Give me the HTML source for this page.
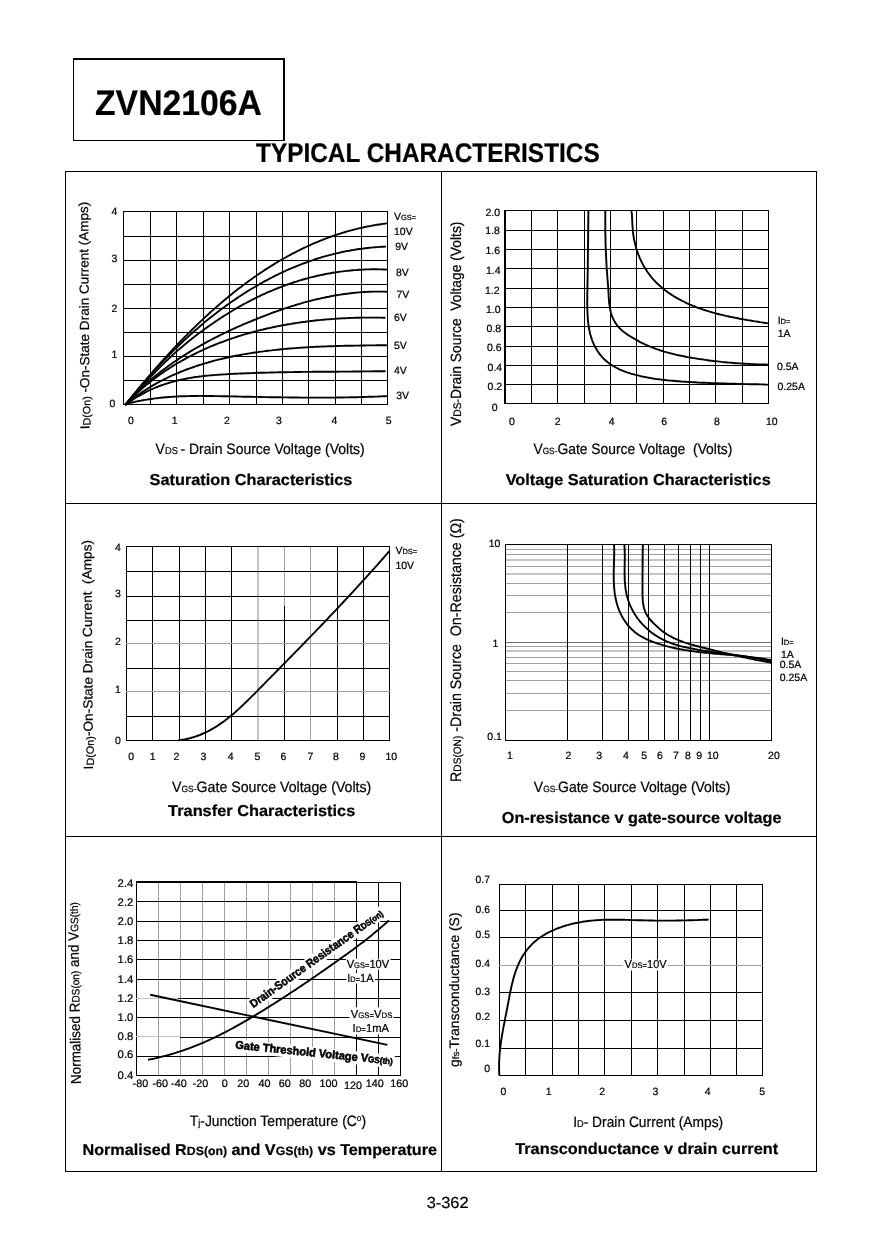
<!DOCTYPE html>
<html lang="en">
<head>
<meta charset="utf-8">
<title>ZVN2106A - Typical Characteristics</title>
<style>
html,body{margin:0;padding:0;background:#fff;}
body{width:879px;height:1240px;overflow:hidden;}
svg{display:block;}
svg text{font-family:"Liberation Sans",sans-serif;fill:#000;white-space:pre;stroke:#000;stroke-width:.22px;stroke-linejoin:round;text-rendering:geometricPrecision;}
</style>
</head>
<body>
<svg width="879" height="1240" viewBox="0 0 879 1240">
<rect x="0" y="0" width="879" height="1240" fill="#fff"/>
<line x1="65" y1="171.5" x2="817" y2="171.5" stroke="#000" stroke-width="1" shape-rendering="crispEdges"/>
<line x1="65" y1="1171.5" x2="817" y2="1171.5" stroke="#000" stroke-width="1" shape-rendering="crispEdges"/>
<line x1="65.5" y1="171" x2="65.5" y2="1172" stroke="#000" stroke-width="1" shape-rendering="crispEdges"/>
<line x1="816.5" y1="171" x2="816.5" y2="1172" stroke="#000" stroke-width="1" shape-rendering="crispEdges"/>
<line x1="441.5" y1="171" x2="441.5" y2="1172" stroke="#000" stroke-width="1" shape-rendering="crispEdges"/>
<line x1="65" y1="503.5" x2="817" y2="503.5" stroke="#000" stroke-width="1" shape-rendering="crispEdges"/>
<line x1="65" y1="836.5" x2="817" y2="836.5" stroke="#000" stroke-width="1" shape-rendering="crispEdges"/>
<line x1="73" y1="59" x2="285" y2="59" stroke="#000" stroke-width="2" shape-rendering="crispEdges"/>
<line x1="73" y1="140.5" x2="285" y2="140.5" stroke="#000" stroke-width="1" shape-rendering="crispEdges"/>
<line x1="73.5" y1="58" x2="73.5" y2="141" stroke="#000" stroke-width="1" shape-rendering="crispEdges"/>
<line x1="284" y1="58" x2="284" y2="141" stroke="#000" stroke-width="2" shape-rendering="crispEdges"/>
<text id="t0" transform="translate(95,115.4) scale(0.9509,1)" font-size="35.5" font-weight="bold">ZVN2106A</text>
<text id="t1" transform="translate(256,162.4) scale(0.9032,1)" font-size="27" font-weight="bold">TYPICAL CHARACTERISTICS</text>
<text id="t2" transform="translate(426.7,1207.8) scale(1.0215,1)" font-size="16">3-362</text>
<line x1="123.5" y1="211" x2="123.5" y2="405" stroke="#000" stroke-width="1" shape-rendering="crispEdges"/>
<line x1="150.5" y1="211" x2="150.5" y2="405" stroke="#000" stroke-width="1" shape-rendering="crispEdges"/>
<line x1="176.5" y1="211" x2="176.5" y2="405" stroke="#000" stroke-width="1" shape-rendering="crispEdges"/>
<line x1="203.5" y1="211" x2="203.5" y2="405" stroke="#000" stroke-width="1" shape-rendering="crispEdges"/>
<line x1="229.5" y1="211" x2="229.5" y2="405" stroke="#000" stroke-width="1" shape-rendering="crispEdges"/>
<line x1="256.5" y1="211" x2="256.5" y2="405" stroke="#000" stroke-width="1" shape-rendering="crispEdges"/>
<line x1="282.5" y1="211" x2="282.5" y2="405" stroke="#000" stroke-width="1" shape-rendering="crispEdges"/>
<line x1="308.5" y1="211" x2="308.5" y2="405" stroke="#000" stroke-width="1" shape-rendering="crispEdges"/>
<line x1="335.5" y1="211" x2="335.5" y2="405" stroke="#000" stroke-width="1" shape-rendering="crispEdges"/>
<line x1="361.5" y1="211" x2="361.5" y2="405" stroke="#000" stroke-width="1" shape-rendering="crispEdges"/>
<line x1="387.5" y1="211" x2="387.5" y2="405" stroke="#000" stroke-width="1" shape-rendering="crispEdges"/>
<line x1="123" y1="211.5" x2="388" y2="211.5" stroke="#000" stroke-width="1" shape-rendering="crispEdges"/>
<line x1="123" y1="236.5" x2="388" y2="236.5" stroke="#000" stroke-width="1" shape-rendering="crispEdges"/>
<line x1="123" y1="260.5" x2="388" y2="260.5" stroke="#000" stroke-width="1" shape-rendering="crispEdges"/>
<line x1="123" y1="284.5" x2="388" y2="284.5" stroke="#000" stroke-width="1" shape-rendering="crispEdges"/>
<line x1="123" y1="308.5" x2="388" y2="308.5" stroke="#000" stroke-width="1" shape-rendering="crispEdges"/>
<line x1="123" y1="332.5" x2="388" y2="332.5" stroke="#000" stroke-width="1" shape-rendering="crispEdges"/>
<line x1="123" y1="356.5" x2="388" y2="356.5" stroke="#000" stroke-width="1" shape-rendering="crispEdges"/>
<line x1="123" y1="380.5" x2="388" y2="380.5" stroke="#000" stroke-width="1" shape-rendering="crispEdges"/>
<line x1="123" y1="404.5" x2="388" y2="404.5" stroke="#000" stroke-width="1" shape-rendering="crispEdges"/>
<path d="M125.5,404.6 L126.7,403.1 L127.9,401.5 L129.1,400.0 L130.4,398.5 L131.6,396.9 L132.9,395.4 L134.1,393.9 L135.4,392.3 L136.7,390.8 L137.9,389.2 L139.2,387.7 L140.5,386.2 L141.7,384.7 L143.0,383.1 L144.3,381.6 L145.6,380.1 L146.9,378.5 L148.2,377.0 L149.5,375.5 L150.8,374.0 L152.1,372.5 L153.4,370.9 L154.8,369.4 L156.1,367.9 L157.4,366.4 L158.8,364.9 L160.1,363.4 L161.4,361.9 L162.8,360.4 L164.1,358.9 L165.5,357.4 L166.9,355.9 L168.2,354.4 L169.6,352.9 L171.0,351.4 L172.4,349.9 L173.7,348.4 L175.1,347.0 L176.5,345.5 L177.9,344.0 L179.3,342.6 L180.7,341.1 L182.1,339.6 L183.6,338.2 L185.0,336.7 L186.4,335.3 L187.8,333.8 L189.3,332.4 L190.7,331.0 L192.2,329.5 L193.6,328.1 L195.1,326.7 L196.5,325.3 L198.0,323.9 L199.5,322.5 L200.9,321.1 L202.4,319.7 L203.9,318.3 L205.4,316.9 L206.9,315.5 L208.4,314.2 L209.9,312.8 L211.4,311.4 L212.9,310.1 L214.4,308.7 L215.9,307.4 L217.5,306.1 L219.0,304.7 L220.5,303.4 L222.1,302.1 L223.6,300.8 L225.2,299.5 L226.7,298.2 L228.3,296.9 L229.9,295.6 L231.4,294.4 L233.0,293.1 L234.6,291.8 L236.2,290.6 L237.8,289.3 L239.4,288.1 L241.0,286.9 L242.6,285.6 L244.2,284.4 L245.8,283.2 L247.5,282.0 L249.1,280.8 L250.7,279.7 L252.4,278.5 L254.0,277.3 L255.7,276.2 L257.3,275.0 L259.0,273.9 L260.7,272.8 L262.3,271.7 L264.0,270.5 L265.7,269.4 L267.4,268.4 L269.1,267.3 L270.8,266.2 L272.5,265.1 L274.2,264.1 L275.9,263.0 L277.6,262.0 L279.4,261.0 L281.1,260.0 L282.8,259.0 L284.6,258.0 L286.3,257.0 L288.1,256.0 L289.8,255.1 L291.6,254.1 L293.4,253.2 L295.2,252.3 L296.9,251.4 L298.7,250.5 L300.5,249.6 L302.3,248.7 L304.1,247.8 L305.9,247.0 L307.8,246.1 L309.6,245.3 L311.4,244.5 L313.2,243.7 L315.1,242.9 L316.9,242.1 L318.8,241.3 L320.6,240.6 L322.5,239.9 L324.4,239.1 L326.2,238.4 L328.1,237.7 L330.0,237.0 L331.9,236.3 L333.8,235.7 L335.7,235.0 L337.6,234.4 L339.5,233.8 L341.4,233.2 L343.3,232.6 L345.3,232.0 L347.2,231.4 L349.2,230.9 L351.1,230.4 L353.1,229.8 L355.0,229.3 L357.0,228.9 L358.9,228.4 L360.9,227.9 L362.9,227.5 L364.9,227.0 L366.9,226.6 L368.9,226.2 L370.9,225.9 L372.9,225.5 L374.9,225.1 L376.9,224.8 L379.0,224.5 L381.0,224.2 L383.1,223.9 L385.1,223.6 L387.2,223.4" fill="none" stroke="#000" stroke-width="1.9" stroke-linecap="butt" stroke-linejoin="round"/>
<path d="M125.6,404.9 L126.8,403.3 L128.0,401.7 L129.3,400.2 L130.5,398.6 L131.8,397.1 L133.0,395.5 L134.3,394.0 L135.5,392.5 L136.8,390.9 L138.1,389.4 L139.4,387.9 L140.6,386.3 L141.9,384.8 L143.2,383.3 L144.5,381.8 L145.9,380.2 L147.2,378.7 L148.5,377.2 L149.8,375.7 L151.2,374.2 L152.5,372.7 L153.9,371.2 L155.2,369.7 L156.6,368.2 L158.0,366.7 L159.3,365.3 L160.7,363.8 L162.1,362.3 L163.5,360.9 L164.9,359.4 L166.3,357.9 L167.7,356.5 L169.1,355.1 L170.5,353.6 L172.0,352.2 L173.4,350.7 L174.8,349.3 L176.3,347.9 L177.7,346.5 L179.2,345.1 L180.7,343.7 L182.1,342.3 L183.6,340.9 L185.1,339.5 L186.6,338.1 L188.1,336.8 L189.6,335.4 L191.1,334.0 L192.6,332.7 L194.1,331.4 L195.6,330.0 L197.2,328.7 L198.7,327.4 L200.3,326.0 L201.8,324.7 L203.4,323.4 L204.9,322.1 L206.5,320.8 L208.0,319.6 L209.6,318.3 L211.2,317.0 L212.8,315.8 L214.4,314.5 L216.0,313.3 L217.6,312.0 L219.2,310.8 L220.8,309.6 L222.4,308.4 L224.1,307.2 L225.7,306.0 L227.3,304.8 L229.0,303.7 L230.6,302.5 L232.3,301.3 L233.9,300.2 L235.6,299.1 L237.3,297.9 L239.0,296.8 L240.6,295.7 L242.3,294.6 L244.0,293.5 L245.7,292.4 L247.4,291.4 L249.1,290.3 L250.8,289.3 L252.6,288.2 L254.3,287.2 L256.0,286.2 L257.8,285.2 L259.5,284.2 L261.3,283.2 L263.0,282.2 L264.8,281.2 L266.5,280.3 L268.3,279.3 L270.1,278.4 L271.9,277.5 L273.6,276.6 L275.4,275.7 L277.2,274.8 L279.0,273.9 L280.8,273.1 L282.6,272.2 L284.5,271.4 L286.3,270.5 L288.1,269.7 L289.9,268.9 L291.8,268.1 L293.6,267.4 L295.5,266.6 L297.3,265.8 L299.2,265.1 L301.1,264.4 L302.9,263.7 L304.8,263.0 L306.7,262.3 L308.6,261.6 L310.5,260.9 L312.3,260.3 L314.2,259.6 L316.1,259.0 L318.1,258.4 L320.0,257.8 L321.9,257.2 L323.8,256.7 L325.7,256.1 L327.7,255.6 L329.6,255.1 L331.6,254.6 L333.5,254.1 L335.5,253.6 L337.4,253.1 L339.4,252.7 L341.4,252.2 L343.3,251.8 L345.3,251.4 L347.3,251.0 L349.3,250.7 L351.3,250.3 L353.3,250.0 L355.3,249.6 L357.3,249.3 L359.3,249.0 L361.3,248.7 L363.4,248.5 L365.4,248.2 L367.4,248.0 L369.4,247.8 L371.5,247.6 L373.5,247.4 L375.6,247.2 L377.6,247.1 L379.7,246.9 L381.8,246.8 L383.8,246.7 L385.9,246.6" fill="none" stroke="#000" stroke-width="1.9" stroke-linecap="butt" stroke-linejoin="round"/>
<path d="M125.4,404.9 L126.7,403.3 L128.0,401.8 L129.4,400.3 L130.7,398.8 L132.0,397.2 L133.4,395.7 L134.7,394.2 L136.1,392.7 L137.4,391.2 L138.8,389.7 L140.2,388.2 L141.5,386.7 L142.9,385.2 L144.2,383.7 L145.6,382.2 L147.0,380.7 L148.4,379.2 L149.8,377.8 L151.2,376.3 L152.6,374.8 L154.0,373.4 L155.4,371.9 L156.8,370.5 L158.2,369.0 L159.6,367.6 L161.0,366.2 L162.5,364.7 L163.9,363.3 L165.4,361.9 L166.8,360.5 L168.3,359.1 L169.8,357.7 L171.2,356.4 L172.7,355.0 L174.2,353.6 L175.7,352.3 L177.2,350.9 L178.7,349.6 L180.3,348.3 L181.8,347.0 L183.4,345.7 L184.9,344.4 L186.5,343.1 L188.0,341.8 L189.6,340.5 L191.2,339.3 L192.8,338.0 L194.4,336.8 L196.0,335.6 L197.6,334.3 L199.2,333.1 L200.8,331.9 L202.5,330.7 L204.1,329.5 L205.7,328.3 L207.4,327.1 L209.0,326.0 L210.7,324.8 L212.4,323.7 L214.0,322.5 L215.7,321.4 L217.4,320.2 L219.1,319.1 L220.8,318.0 L222.5,316.9 L224.2,315.8 L225.9,314.7 L227.6,313.7 L229.3,312.6 L231.1,311.5 L232.8,310.5 L234.5,309.5 L236.3,308.4 L238.1,307.4 L239.8,306.4 L241.6,305.4 L243.3,304.4 L245.1,303.5 L246.9,302.5 L248.7,301.6 L250.5,300.6 L252.3,299.7 L254.1,298.8 L255.9,297.9 L257.7,297.0 L259.6,296.1 L261.4,295.2 L263.2,294.4 L265.1,293.6 L266.9,292.7 L268.7,291.9 L270.6,291.1 L272.5,290.3 L274.3,289.5 L276.2,288.8 L278.1,288.0 L280.0,287.3 L281.9,286.6 L283.8,285.9 L285.7,285.2 L287.6,284.5 L289.5,283.8 L291.4,283.2 L293.3,282.5 L295.2,281.9 L297.2,281.3 L299.1,280.7 L301.0,280.1 L303.0,279.5 L304.9,279.0 L306.9,278.5 L308.8,277.9 L310.8,277.4 L312.8,276.9 L314.7,276.5 L316.7,276.0 L318.7,275.5 L320.6,275.1 L322.6,274.7 L324.6,274.3 L326.6,273.9 L328.6,273.5 L330.6,273.2 L332.6,272.8 L334.6,272.5 L336.6,272.2 L338.6,271.9 L340.6,271.6 L342.6,271.4 L344.6,271.1 L346.6,270.9 L348.6,270.7 L350.6,270.5 L352.6,270.3 L354.7,270.1 L356.7,270.0 L358.7,269.8 L360.7,269.7 L362.7,269.6 L364.7,269.5 L366.8,269.4 L368.8,269.4 L370.8,269.3 L372.8,269.3 L374.9,269.3 L376.9,269.3 L378.9,269.4 L380.9,269.4 L383.0,269.5 L385.0,269.5 L387.0,269.6" fill="none" stroke="#000" stroke-width="1.9" stroke-linecap="butt" stroke-linejoin="round"/>
<path d="M125.2,404.6 L126.5,403.1 L127.9,401.6 L129.3,400.1 L130.7,398.7 L132.1,397.2 L133.5,395.8 L134.9,394.3 L136.4,392.9 L137.8,391.5 L139.3,390.1 L140.7,388.7 L142.2,387.3 L143.7,386.0 L145.2,384.6 L146.7,383.3 L148.2,382.0 L149.7,380.7 L151.3,379.4 L152.8,378.1 L154.4,376.8 L155.9,375.5 L157.5,374.3 L159.1,373.0 L160.6,371.8 L162.2,370.6 L163.8,369.4 L165.5,368.2 L167.1,367.0 L168.7,365.8 L170.3,364.6 L172.0,363.5 L173.6,362.3 L175.3,361.2 L176.9,360.1 L178.6,358.9 L180.3,357.8 L182.0,356.7 L183.7,355.6 L185.4,354.6 L187.1,353.5 L188.8,352.4 L190.5,351.4 L192.2,350.4 L194.0,349.3 L195.7,348.3 L197.4,347.3 L199.2,346.3 L200.9,345.3 L202.7,344.3 L204.5,343.3 L206.2,342.4 L208.0,341.4 L209.8,340.5 L211.6,339.5 L213.4,338.6 L215.2,337.7 L217.0,336.8 L218.8,335.8 L220.6,334.9 L222.4,334.1 L224.2,333.2 L226.1,332.3 L227.9,331.4 L229.7,330.6 L231.6,329.7 L233.4,328.9 L235.2,328.0 L237.1,327.2 L238.9,326.4 L240.8,325.6 L242.7,324.7 L244.5,323.9 L246.4,323.2 L248.2,322.4 L250.1,321.6 L252.0,320.8 L253.9,320.0 L255.7,319.3 L257.6,318.5 L259.5,317.8 L261.4,317.0 L263.3,316.3 L265.2,315.6 L267.1,314.8 L268.9,314.1 L270.8,313.4 L272.7,312.7 L274.6,312.0 L276.5,311.3 L278.5,310.7 L280.4,310.0 L282.3,309.3 L284.2,308.7 L286.1,308.1 L288.0,307.4 L289.9,306.8 L291.9,306.2 L293.8,305.6 L295.7,305.0 L297.6,304.4 L299.6,303.9 L301.5,303.3 L303.4,302.7 L305.4,302.2 L307.3,301.7 L309.3,301.2 L311.2,300.7 L313.2,300.2 L315.1,299.7 L317.1,299.2 L319.0,298.8 L321.0,298.3 L322.9,297.9 L324.9,297.5 L326.9,297.0 L328.8,296.7 L330.8,296.3 L332.8,295.9 L334.8,295.5 L336.7,295.2 L338.7,294.9 L340.7,294.6 L342.7,294.3 L344.7,294.0 L346.7,293.7 L348.7,293.5 L350.6,293.2 L352.6,293.0 L354.6,292.8 L356.7,292.6 L358.7,292.4 L360.7,292.3 L362.7,292.1 L364.7,292.0 L366.7,291.9 L368.7,291.8 L370.7,291.7 L372.8,291.6 L374.8,291.6 L376.8,291.6 L378.9,291.6 L380.9,291.6 L382.9,291.6 L385.0,291.6 L387.0,291.7" fill="none" stroke="#000" stroke-width="1.9" stroke-linecap="butt" stroke-linejoin="round"/>
<path d="M125.1,404.8 L126.5,403.3 L127.9,401.8 L129.4,400.3 L130.8,398.9 L132.3,397.4 L133.8,396.0 L135.3,394.6 L136.8,393.2 L138.3,391.9 L139.8,390.5 L141.3,389.2 L142.9,387.8 L144.4,386.5 L146.0,385.2 L147.6,384.0 L149.1,382.7 L150.7,381.4 L152.3,380.2 L153.9,379.0 L155.5,377.8 L157.2,376.6 L158.8,375.4 L160.4,374.2 L162.1,373.1 L163.8,371.9 L165.4,370.8 L167.1,369.7 L168.8,368.6 L170.5,367.5 L172.2,366.4 L173.9,365.4 L175.6,364.3 L177.3,363.3 L179.0,362.3 L180.8,361.3 L182.5,360.3 L184.3,359.3 L186.0,358.4 L187.8,357.4 L189.6,356.5 L191.4,355.6 L193.1,354.7 L194.9,353.8 L196.7,352.9 L198.6,352.0 L200.4,351.1 L202.2,350.3 L204.0,349.5 L205.8,348.6 L207.7,347.8 L209.5,347.0 L211.4,346.2 L213.2,345.5 L215.1,344.7 L217.0,344.0 L218.8,343.2 L220.7,342.5 L222.6,341.8 L224.5,341.1 L226.4,340.4 L228.3,339.7 L230.2,339.1 L232.1,338.4 L234.0,337.8 L235.9,337.1 L237.8,336.5 L239.8,335.9 L241.7,335.3 L243.6,334.7 L245.6,334.2 L247.5,333.6 L249.5,333.0 L251.4,332.5 L253.4,332.0 L255.3,331.4 L257.3,330.9 L259.2,330.4 L261.2,329.9 L263.2,329.5 L265.1,329.0 L267.1,328.5 L269.1,328.1 L271.1,327.7 L273.1,327.2 L275.1,326.8 L277.0,326.4 L279.0,326.0 L281.0,325.6 L283.0,325.3 L285.0,324.9 L287.0,324.5 L289.0,324.2 L291.0,323.9 L293.0,323.5 L295.0,323.2 L297.1,322.9 L299.1,322.6 L301.1,322.3 L303.1,322.0 L305.1,321.8 L307.1,321.5 L309.1,321.3 L311.1,321.0 L313.2,320.8 L315.2,320.5 L317.2,320.3 L319.2,320.1 L321.2,319.9 L323.3,319.7 L325.3,319.5 L327.3,319.4 L329.3,319.2 L331.3,319.1 L333.3,318.9 L335.4,318.8 L337.4,318.6 L339.4,318.5 L341.4,318.4 L343.4,318.3 L345.4,318.2 L347.5,318.1 L349.5,318.0 L351.5,317.9 L353.5,317.9 L355.5,317.8 L357.5,317.7 L359.5,317.7 L361.5,317.6 L363.5,317.6 L365.5,317.6 L367.5,317.6 L369.5,317.6 L371.5,317.6 L373.5,317.6 L375.5,317.6 L377.5,317.6 L379.5,317.6 L381.4,317.6 L383.4,317.7 L385.4,317.7" fill="none" stroke="#000" stroke-width="1.9" stroke-linecap="butt" stroke-linejoin="round"/>
<path d="M125.1,404.8 L126.7,403.5 L128.4,402.2 L130.0,400.9 L131.6,399.6 L133.3,398.4 L135.0,397.1 L136.6,395.9 L138.3,394.7 L140.0,393.6 L141.7,392.4 L143.4,391.3 L145.1,390.2 L146.8,389.1 L148.6,388.0 L150.3,387.0 L152.1,385.9 L153.8,384.9 L155.6,383.9 L157.3,382.9 L159.1,382.0 L160.9,381.0 L162.7,380.1 L164.5,379.2 L166.3,378.3 L168.1,377.4 L169.9,376.5 L171.8,375.7 L173.6,374.9 L175.5,374.1 L177.3,373.3 L179.2,372.5 L181.0,371.7 L182.9,371.0 L184.8,370.2 L186.6,369.5 L188.5,368.8 L190.4,368.1 L192.3,367.5 L194.2,366.8 L196.1,366.1 L198.0,365.5 L199.9,364.9 L201.9,364.3 L203.8,363.7 L205.7,363.1 L207.7,362.6 L209.6,362.0 L211.5,361.5 L213.5,360.9 L215.4,360.4 L217.4,359.9 L219.4,359.4 L221.3,359.0 L223.3,358.5 L225.3,358.0 L227.2,357.6 L229.2,357.2 L231.2,356.7 L233.2,356.3 L235.2,355.9 L237.2,355.5 L239.2,355.2 L241.2,354.8 L243.2,354.4 L245.2,354.1 L247.2,353.8 L249.2,353.4 L251.2,353.1 L253.2,352.8 L255.2,352.5 L257.2,352.2 L259.3,351.9 L261.3,351.6 L263.3,351.4 L265.3,351.1 L267.3,350.8 L269.4,350.6 L271.4,350.4 L273.4,350.1 L275.4,349.9 L277.5,349.7 L279.5,349.5 L281.5,349.3 L283.6,349.1 L285.6,348.9 L287.6,348.7 L289.7,348.5 L291.7,348.4 L293.7,348.2 L295.8,348.1 L297.8,347.9 L299.8,347.8 L301.9,347.6 L303.9,347.5 L306.0,347.4 L308.0,347.2 L310.0,347.1 L312.1,347.0 L314.1,346.9 L316.1,346.8 L318.2,346.7 L320.2,346.6 L322.3,346.5 L324.3,346.5 L326.3,346.4 L328.4,346.3 L330.4,346.2 L332.4,346.2 L334.5,346.1 L336.5,346.0 L338.5,346.0 L340.6,345.9 L342.6,345.9 L344.6,345.8 L346.6,345.8 L348.7,345.7 L350.7,345.7 L352.7,345.7 L354.7,345.6 L356.7,345.6 L358.8,345.6 L360.8,345.5 L362.8,345.5 L364.8,345.5 L366.8,345.4 L368.8,345.4 L370.8,345.4 L372.8,345.4 L374.8,345.4 L376.8,345.3 L378.8,345.3 L380.8,345.3 L382.8,345.3 L384.8,345.3 L386.8,345.3" fill="none" stroke="#000" stroke-width="1.9" stroke-linecap="butt" stroke-linejoin="round"/>
<path d="M125.3,405.0 L127.0,403.7 L128.7,402.5 L130.4,401.3 L132.1,400.1 L133.8,399.0 L135.5,397.9 L137.3,396.8 L139.0,395.8 L140.8,394.8 L142.6,393.8 L144.4,392.8 L146.2,391.9 L148.0,391.0 L149.8,390.1 L151.7,389.3 L153.5,388.5 L155.4,387.7 L157.2,387.0 L159.1,386.2 L161.0,385.5 L162.9,384.8 L164.8,384.2 L166.7,383.6 L168.6,383.0 L170.5,382.4 L172.4,381.9 L174.4,381.3 L176.3,380.8 L178.2,380.3 L180.2,379.9 L182.1,379.5 L184.1,379.1 L186.1,378.7 L188.0,378.3 L190.0,378.0 L192.0,377.6 L194.0,377.3 L196.0,377.0 L198.0,376.8 L200.0,376.5 L201.9,376.3 L204.0,376.0 L206.0,375.8 L208.0,375.6 L210.0,375.4 L212.0,375.2 L214.0,375.1 L216.0,374.9 L218.0,374.8 L220.0,374.6 L222.1,374.5 L224.1,374.4 L226.1,374.3 L228.1,374.1 L230.1,374.0 L232.2,373.9 L234.2,373.8 L236.2,373.7 L238.2,373.6 L240.2,373.5 L242.3,373.5 L244.3,373.4 L246.3,373.3 L248.3,373.2 L250.3,373.1 L252.4,373.1 L254.4,373.0 L256.4,372.9 L258.4,372.8 L260.4,372.8 L262.5,372.7 L264.5,372.7 L266.5,372.6 L268.5,372.6 L270.5,372.5 L272.6,372.5 L274.6,372.4 L276.6,372.4 L278.6,372.3 L280.6,372.3 L282.6,372.2 L284.7,372.2 L286.7,372.2 L288.7,372.1 L290.7,372.1 L292.7,372.1 L294.8,372.0 L296.8,372.0 L298.8,372.0 L300.8,372.0 L302.8,371.9 L304.9,371.9 L306.9,371.9 L308.9,371.9 L310.9,371.9 L312.9,371.8 L315.0,371.8 L317.0,371.8 L319.0,371.8 L321.0,371.8 L323.0,371.8 L325.0,371.7 L327.1,371.7 L329.1,371.7 L331.1,371.7 L333.1,371.7 L335.1,371.7 L337.2,371.7 L339.2,371.6 L341.2,371.6 L343.2,371.6 L345.2,371.6 L347.2,371.6 L349.3,371.6 L351.3,371.6 L353.3,371.5 L355.3,371.5 L357.3,371.5 L359.4,371.5 L361.4,371.5 L363.4,371.4 L365.4,371.4 L367.4,371.4 L369.4,371.4 L371.5,371.4 L373.5,371.3 L375.5,371.3 L377.5,371.3 L379.5,371.2 L381.6,371.2 L383.6,371.2 L385.6,371.1" fill="none" stroke="#000" stroke-width="1.9" stroke-linecap="butt" stroke-linejoin="round"/>
<path d="M125.1,404.3 L127.1,403.7 L129.1,403.2 L131.1,402.7 L133.0,402.3 L135.0,401.8 L137.0,401.4 L139.0,401.0 L141.0,400.6 L142.9,400.2 L144.9,399.9 L146.9,399.6 L148.9,399.3 L150.9,399.0 L152.9,398.7 L154.9,398.4 L156.9,398.2 L158.9,397.9 L160.9,397.7 L162.9,397.5 L164.9,397.3 L166.9,397.2 L168.9,397.0 L170.9,396.9 L172.9,396.7 L174.9,396.6 L176.9,396.5 L178.9,396.4 L181.0,396.3 L183.0,396.2 L185.0,396.2 L187.0,396.1 L189.0,396.1 L191.0,396.0 L193.0,396.0 L195.1,396.0 L197.1,396.0 L199.1,395.9 L201.1,395.9 L203.1,396.0 L205.2,396.0 L207.2,396.0 L209.2,396.0 L211.2,396.0 L213.2,396.0 L215.3,396.1 L217.3,396.1 L219.3,396.1 L221.3,396.2 L223.3,396.2 L225.4,396.3 L227.4,396.3 L229.4,396.4 L231.4,396.4 L233.5,396.4 L235.5,396.5 L237.5,396.5 L239.5,396.6 L241.5,396.6 L243.6,396.7 L245.6,396.7 L247.6,396.7 L249.6,396.8 L251.7,396.8 L253.7,396.9 L255.7,396.9 L257.7,396.9 L259.7,397.0 L261.8,397.0 L263.8,397.1 L265.8,397.1 L267.8,397.1 L269.8,397.2 L271.9,397.2 L273.9,397.2 L275.9,397.3 L277.9,397.3 L279.9,397.3 L282.0,397.4 L284.0,397.4 L286.0,397.4 L288.0,397.4 L290.1,397.5 L292.1,397.5 L294.1,397.5 L296.1,397.5 L298.1,397.5 L300.2,397.6 L302.2,397.6 L304.2,397.6 L306.2,397.6 L308.2,397.6 L310.3,397.6 L312.3,397.6 L314.3,397.6 L316.3,397.6 L318.3,397.6 L320.4,397.6 L322.4,397.6 L324.4,397.6 L326.4,397.6 L328.4,397.6 L330.5,397.6 L332.5,397.6 L334.5,397.6 L336.5,397.5 L338.5,397.5 L340.5,397.5 L342.6,397.5 L344.6,397.4 L346.6,397.4 L348.6,397.4 L350.6,397.3 L352.7,397.3 L354.7,397.2 L356.7,397.2 L358.7,397.1 L360.7,397.1 L362.8,397.0 L364.8,397.0 L366.8,396.9 L368.8,396.8 L370.8,396.8 L372.9,396.7 L374.9,396.6 L376.9,396.6 L378.9,396.5 L380.9,396.4 L382.9,396.3 L385.0,396.2 L387.0,396.1" fill="none" stroke="#000" stroke-width="1.9" stroke-linecap="butt" stroke-linejoin="round"/>
<text id="t3" transform="translate(114.4,214.6)" font-size="10.5" text-anchor="middle">4</text>
<text id="t4" transform="translate(114.4,262)" font-size="10.5" text-anchor="middle">3</text>
<text id="t5" transform="translate(114.4,312)" font-size="10.5" text-anchor="middle">2</text>
<text id="t6" transform="translate(114.4,358)" font-size="10.5" text-anchor="middle">1</text>
<text id="t7" transform="translate(112.4,406.7)" font-size="10.5" text-anchor="middle">0</text>
<text id="t8" transform="translate(131,424.4)" font-size="10.5" text-anchor="middle">0</text>
<text id="t9" transform="translate(174.6,424.4)" font-size="10.5" text-anchor="middle">1</text>
<text id="t10" transform="translate(226.8,424.4)" font-size="10.5" text-anchor="middle">2</text>
<text id="t11" transform="translate(278.9,424.4)" font-size="10.5" text-anchor="middle">3</text>
<text id="t12" transform="translate(334.4,424.4)" font-size="10.5" text-anchor="middle">4</text>
<text id="t13" transform="translate(388.6,424.4)" font-size="10.5" text-anchor="middle">5</text>
<text id="t14" transform="translate(394,219.8)" font-size="10.5">V<tspan font-size="7.5">GS=</tspan></text>
<text id="t15" transform="translate(394,234.8)" font-size="10.5">10V</text>
<text id="t16" transform="translate(395.2,250.2)" font-size="10.5">9V</text>
<text id="t17" transform="translate(396,275.5)" font-size="10.5">8V</text>
<text id="t18" transform="translate(396.5,297.6)" font-size="10.5">7V</text>
<text id="t19" transform="translate(394,320.6)" font-size="10.5">6V</text>
<text id="t20" transform="translate(394,348.7)" font-size="10.5">5V</text>
<text id="t21" transform="translate(394,373.8)" font-size="10.5">4V</text>
<text id="t22" transform="translate(396.2,399.2)" font-size="10.5">3V</text>
<text id="t23" transform="translate(155.6,454) scale(0.9323,1)" font-size="15">V<tspan font-size="10">DS </tspan>- Drain Source Voltage (Volts)</text>
<text id="t24" transform="translate(149.6,484.6) scale(1.0312,1)" font-size="15.8" font-weight="bold">Saturation Characteristics</text>
<text id="t25" transform="translate(89.6,429.3) rotate(-90.4) scale(1.0249,1)" font-size="13.2">I<tspan font-size="10.5" dy="0.8">D(On)</tspan><tspan dy="-0.8"> -On-State Drain Current (Amps)</tspan></text>
<line x1="505.5" y1="210" x2="505.5" y2="404" stroke="#000" stroke-width="1" shape-rendering="crispEdges"/>
<line x1="531.5" y1="210" x2="531.5" y2="404" stroke="#000" stroke-width="1" shape-rendering="crispEdges"/>
<line x1="557.5" y1="210" x2="557.5" y2="404" stroke="#000" stroke-width="1" shape-rendering="crispEdges"/>
<line x1="584.5" y1="210" x2="584.5" y2="404" stroke="#000" stroke-width="1" shape-rendering="crispEdges"/>
<line x1="610.5" y1="210" x2="610.5" y2="404" stroke="#000" stroke-width="1" shape-rendering="crispEdges"/>
<line x1="636.5" y1="210" x2="636.5" y2="404" stroke="#000" stroke-width="1" shape-rendering="crispEdges"/>
<line x1="663.5" y1="210" x2="663.5" y2="404" stroke="#000" stroke-width="1" shape-rendering="crispEdges"/>
<line x1="689.5" y1="210" x2="689.5" y2="404" stroke="#000" stroke-width="1" shape-rendering="crispEdges"/>
<line x1="715.5" y1="210" x2="715.5" y2="404" stroke="#000" stroke-width="1" shape-rendering="crispEdges"/>
<line x1="742.5" y1="210" x2="742.5" y2="404" stroke="#000" stroke-width="1" shape-rendering="crispEdges"/>
<line x1="768.5" y1="210" x2="768.5" y2="404" stroke="#000" stroke-width="1" shape-rendering="crispEdges"/>
<line x1="505" y1="210.5" x2="769" y2="210.5" stroke="#000" stroke-width="1" shape-rendering="crispEdges"/>
<line x1="505" y1="230.5" x2="769" y2="230.5" stroke="#000" stroke-width="1" shape-rendering="crispEdges"/>
<line x1="505" y1="249.5" x2="769" y2="249.5" stroke="#000" stroke-width="1" shape-rendering="crispEdges"/>
<line x1="505" y1="268.5" x2="769" y2="268.5" stroke="#000" stroke-width="1" shape-rendering="crispEdges"/>
<line x1="505" y1="288.5" x2="769" y2="288.5" stroke="#000" stroke-width="1" shape-rendering="crispEdges"/>
<line x1="505" y1="307.5" x2="769" y2="307.5" stroke="#000" stroke-width="1" shape-rendering="crispEdges"/>
<line x1="505" y1="326.5" x2="769" y2="326.5" stroke="#000" stroke-width="1" shape-rendering="crispEdges"/>
<line x1="505" y1="346.5" x2="769" y2="346.5" stroke="#000" stroke-width="1" shape-rendering="crispEdges"/>
<line x1="505" y1="365.5" x2="769" y2="365.5" stroke="#000" stroke-width="1" shape-rendering="crispEdges"/>
<line x1="505" y1="384.5" x2="769" y2="384.5" stroke="#000" stroke-width="1" shape-rendering="crispEdges"/>
<line x1="505" y1="403.5" x2="769" y2="403.5" stroke="#000" stroke-width="1" shape-rendering="crispEdges"/>
<line x1="505" y1="210" x2="505" y2="404" stroke="#000" stroke-width="2" shape-rendering="crispEdges"/>
<path d="M588.4,210.2 L588.4,212.2 L588.4,214.2 L588.3,216.3 L588.3,218.3 L588.3,220.3 L588.3,222.3 L588.3,224.4 L588.2,226.4 L588.2,228.4 L588.2,230.4 L588.2,232.5 L588.1,234.5 L588.1,236.5 L588.1,238.5 L588.1,240.6 L588.1,242.6 L588.0,244.6 L588.0,246.6 L588.0,248.7 L588.0,250.7 L587.9,252.7 L587.9,254.7 L587.9,256.7 L587.9,258.8 L587.8,260.8 L587.8,262.8 L587.8,264.8 L587.8,266.8 L587.7,268.9 L587.7,270.9 L587.7,272.9 L587.6,274.9 L587.6,276.9 L587.6,279.0 L587.5,281.0 L587.5,283.0 L587.5,285.0 L587.4,287.0 L587.4,289.1 L587.4,291.1 L587.3,293.1 L587.3,295.1 L587.3,297.2 L587.3,299.2 L587.2,301.2 L587.2,303.2 L587.3,305.3 L587.3,307.3 L587.3,309.4 L587.4,311.4 L587.5,313.5 L587.6,315.5 L587.7,317.6 L587.9,319.6 L588.1,321.7 L588.3,323.7 L588.6,325.8 L588.9,327.8 L589.3,329.8 L589.7,331.8 L590.1,333.7 L590.7,335.7 L591.3,337.6 L591.9,339.5 L592.6,341.4 L593.4,343.3 L594.2,345.1 L595.1,346.9 L596.1,348.6 L597.1,350.3 L598.2,352.0 L599.3,353.6 L600.5,355.2 L601.8,356.7 L603.1,358.1 L604.5,359.5 L605.9,360.8 L607.5,362.1 L609.0,363.3 L610.6,364.4 L612.3,365.5 L614.0,366.5 L615.8,367.5 L617.6,368.4 L619.4,369.3 L621.2,370.1 L623.1,370.9 L625.0,371.6 L627.0,372.3 L628.9,372.9 L630.9,373.6 L632.9,374.1 L634.9,374.7 L636.8,375.2 L638.8,375.7 L640.8,376.2 L642.8,376.6 L644.8,377.0 L646.8,377.4 L648.8,377.8 L650.8,378.1 L652.8,378.5 L654.8,378.8 L656.9,379.1 L658.9,379.3 L660.9,379.6 L662.9,379.8 L664.9,380.0 L666.9,380.3 L669.0,380.5 L671.0,380.6 L673.0,380.8 L675.0,381.0 L677.0,381.2 L679.0,381.3 L681.1,381.5 L683.1,381.6 L685.1,381.7 L687.1,381.9 L689.1,382.0 L691.1,382.1 L693.2,382.2 L695.2,382.3 L697.2,382.5 L699.2,382.6 L701.2,382.7 L703.2,382.7 L705.2,382.8 L707.3,382.9 L709.3,383.0 L711.3,383.1 L713.3,383.2 L715.3,383.2 L717.3,383.3 L719.3,383.4 L721.4,383.4 L723.4,383.5 L725.4,383.5 L727.4,383.6 L729.4,383.7 L731.4,383.7 L733.5,383.8 L735.5,383.8 L737.5,383.9 L739.5,383.9 L741.6,384.0 L743.6,384.0 L745.6,384.1 L747.6,384.1 L749.7,384.2 L751.7,384.2 L753.7,384.2 L755.7,384.3 L757.8,384.3 L759.8,384.4 L761.8,384.4 L763.9,384.5 L765.9,384.6 L767.9,384.6" fill="none" stroke="#000" stroke-width="1.9" stroke-linecap="butt" stroke-linejoin="round"/>
<path d="M605.3,210.2 L605.3,212.2 L605.3,214.2 L605.3,216.3 L605.3,218.3 L605.3,220.3 L605.3,222.3 L605.3,224.3 L605.3,226.3 L605.3,228.3 L605.3,230.4 L605.3,232.4 L605.4,234.4 L605.4,236.4 L605.5,238.4 L605.5,240.5 L605.5,242.5 L605.6,244.5 L605.7,246.5 L605.7,248.5 L605.8,250.6 L605.9,252.6 L606.0,254.6 L606.1,256.6 L606.2,258.6 L606.3,260.6 L606.4,262.6 L606.5,264.7 L606.6,266.7 L606.7,268.7 L606.9,270.7 L607.0,272.7 L607.2,274.7 L607.3,276.7 L607.5,278.7 L607.6,280.7 L607.8,282.7 L608.0,284.7 L608.1,286.7 L608.3,288.8 L608.4,290.8 L608.5,292.9 L608.6,294.9 L608.7,297.0 L608.9,299.0 L609.0,301.1 L609.2,303.1 L609.5,305.2 L609.8,307.2 L610.1,309.2 L610.5,311.1 L611.0,313.0 L611.6,314.9 L612.3,316.8 L613.1,318.6 L614.0,320.4 L614.9,322.1 L616.0,323.7 L617.1,325.3 L618.4,326.8 L619.7,328.3 L621.1,329.7 L622.6,331.0 L624.2,332.3 L625.9,333.5 L627.5,334.6 L629.3,335.7 L631.0,336.8 L632.8,337.9 L634.5,338.9 L636.3,339.9 L638.1,340.9 L639.8,341.9 L641.7,342.8 L643.5,343.7 L645.3,344.5 L647.1,345.4 L649.0,346.2 L650.8,346.9 L652.7,347.7 L654.6,348.4 L656.5,349.1 L658.4,349.7 L660.3,350.4 L662.2,351.0 L664.1,351.6 L666.0,352.1 L668.0,352.7 L669.9,353.2 L671.9,353.7 L673.8,354.2 L675.8,354.7 L677.7,355.1 L679.7,355.5 L681.7,355.9 L683.7,356.3 L685.6,356.7 L687.6,357.1 L689.6,357.4 L691.6,357.8 L693.6,358.1 L695.6,358.4 L697.6,358.8 L699.6,359.1 L701.6,359.3 L703.6,359.6 L705.6,359.9 L707.6,360.2 L709.6,360.5 L711.6,360.7 L713.6,361.0 L715.6,361.2 L717.6,361.4 L719.6,361.6 L721.6,361.9 L723.6,362.1 L725.6,362.3 L727.6,362.5 L729.6,362.6 L731.6,362.8 L733.6,363.0 L735.7,363.2 L737.7,363.3 L739.7,363.4 L741.7,363.6 L743.7,363.7 L745.7,363.8 L747.7,363.9 L749.7,364.0 L751.8,364.1 L753.8,364.2 L755.8,364.3 L757.8,364.4 L759.8,364.4 L761.8,364.5 L763.9,364.5 L765.9,364.5 L767.9,364.6" fill="none" stroke="#000" stroke-width="1.9" stroke-linecap="butt" stroke-linejoin="round"/>
<path d="M631.4,210.2 L631.6,212.2 L631.9,214.2 L632.0,216.3 L632.1,218.3 L632.2,220.3 L632.3,222.4 L632.4,224.4 L632.5,226.4 L632.7,228.5 L632.8,230.5 L633.0,232.5 L633.3,234.5 L633.6,236.6 L633.9,238.6 L634.3,240.6 L634.8,242.6 L635.2,244.6 L635.8,246.6 L636.3,248.5 L637.0,250.5 L637.6,252.4 L638.3,254.3 L639.1,256.2 L639.8,258.1 L640.7,259.9 L641.5,261.8 L642.5,263.6 L643.4,265.4 L644.4,267.1 L645.5,268.9 L646.6,270.6 L647.7,272.3 L648.9,273.9 L650.1,275.5 L651.3,277.1 L652.6,278.6 L654.0,280.1 L655.3,281.6 L656.8,283.0 L658.2,284.4 L659.7,285.8 L661.2,287.1 L662.8,288.4 L664.4,289.7 L666.0,290.9 L667.6,292.1 L669.3,293.3 L671.0,294.4 L672.7,295.5 L674.4,296.6 L676.2,297.6 L678.0,298.7 L679.8,299.6 L681.6,300.6 L683.5,301.5 L685.3,302.4 L687.2,303.3 L689.1,304.1 L691.0,305.0 L692.9,305.8 L694.8,306.5 L696.7,307.3 L698.6,308.0 L700.5,308.7 L702.5,309.4 L704.4,310.0 L706.3,310.6 L708.3,311.2 L710.2,311.8 L712.2,312.4 L714.1,312.9 L716.1,313.5 L718.0,314.0 L720.0,314.5 L721.9,314.9 L723.9,315.4 L725.9,315.9 L727.8,316.3 L729.8,316.7 L731.8,317.1 L733.8,317.5 L735.7,317.9 L737.7,318.3 L739.7,318.7 L741.7,319.0 L743.7,319.4 L745.7,319.7 L747.7,320.1 L749.7,320.4 L751.7,320.7 L753.7,321.1 L755.8,321.4 L757.8,321.7 L759.8,322.1 L761.8,322.4 L763.9,322.7 L765.9,323.0 L767.9,323.4" fill="none" stroke="#000" stroke-width="1.9" stroke-linecap="butt" stroke-linejoin="round"/>
<text id="t26" transform="translate(485.5,215.8)" font-size="10.5">2.0</text>
<text id="t27" transform="translate(485.3,233.5)" font-size="10.5">1.8</text>
<text id="t28" transform="translate(485.5,253.7)" font-size="10.5">1.6</text>
<text id="t29" transform="translate(486,274.4)" font-size="10.5">1.4</text>
<text id="t30" transform="translate(485,293.7)" font-size="10.5">1.2</text>
<text id="t31" transform="translate(486,312.7)" font-size="10.5">1.0</text>
<text id="t32" transform="translate(486.6,331.8)" font-size="10.5">0.8</text>
<text id="t33" transform="translate(487,350.8)" font-size="10.5">0.6</text>
<text id="t34" transform="translate(487.6,370.8)" font-size="10.5">0.4</text>
<text id="t35" transform="translate(487.6,390.3)" font-size="10.5">0.2</text>
<text id="t36" transform="translate(494.7,410.5)" font-size="10.5" text-anchor="middle">0</text>
<text id="t37" transform="translate(511.8,424.8)" font-size="10.5" text-anchor="middle">0</text>
<text id="t38" transform="translate(557.6,424.8)" font-size="10.5" text-anchor="middle">2</text>
<text id="t39" transform="translate(611.6,424.8)" font-size="10.5" text-anchor="middle">4</text>
<text id="t40" transform="translate(664.2,424.8)" font-size="10.5" text-anchor="middle">6</text>
<text id="t41" transform="translate(716.8,424.8)" font-size="10.5" text-anchor="middle">8</text>
<text id="t42" transform="translate(771.8,424.8)" font-size="10.5" text-anchor="middle">10</text>
<text id="t43" transform="translate(777.7,324.2)" font-size="10.5">I<tspan font-size="7.5">D=</tspan></text>
<text id="t44" transform="translate(777.7,337.2)" font-size="10.5">1A</text>
<text id="t45" transform="translate(777,369.7)" font-size="10.5">0.5A</text>
<text id="t46" transform="translate(777.5,390)" font-size="10.5">0.25A</text>
<text id="t47" transform="translate(533.4,454.1) scale(0.9238,1)" font-size="15">V<tspan font-size="9">GS-</tspan>Gate Source Voltage  (Volts)</text>
<text id="t48" transform="translate(505.7,485) scale(1.0314,1)" font-size="15.8" font-weight="bold">Voltage Saturation Characteristics</text>
<text id="t49" transform="translate(460.6,426) rotate(-90) scale(0.9341,1)" font-size="14.8">V<tspan font-size="11">DS-</tspan>Drain Source  Voltage (Volts)</text>
<line x1="126.5" y1="546" x2="126.5" y2="741" stroke="#000" stroke-width="1" shape-rendering="crispEdges"/>
<line x1="152.5" y1="546" x2="152.5" y2="741" stroke="#000" stroke-width="1" shape-rendering="crispEdges"/>
<line x1="179.5" y1="546" x2="179.5" y2="741" stroke="#000" stroke-width="1" shape-rendering="crispEdges"/>
<line x1="205.5" y1="546" x2="205.5" y2="741" stroke="#000" stroke-width="1" shape-rendering="crispEdges"/>
<line x1="231.5" y1="546" x2="231.5" y2="741" stroke="#000" stroke-width="1" shape-rendering="crispEdges"/>
<line x1="258" y1="546" x2="258" y2="741" stroke="#c4c4c4" stroke-width="2" shape-rendering="crispEdges"/>
<line x1="284.5" y1="546" x2="284.5" y2="606" stroke="#a0a0a0" stroke-width="1" shape-rendering="crispEdges"/>
<line x1="284.5" y1="606" x2="284.5" y2="741" stroke="#000" stroke-width="1" shape-rendering="crispEdges"/>
<line x1="310.5" y1="546" x2="310.5" y2="741" stroke="#a0a0a0" stroke-width="1" shape-rendering="crispEdges"/>
<line x1="337.5" y1="546" x2="337.5" y2="741" stroke="#000" stroke-width="1" shape-rendering="crispEdges"/>
<line x1="363.5" y1="546" x2="363.5" y2="741" stroke="#000" stroke-width="1" shape-rendering="crispEdges"/>
<line x1="389.5" y1="546" x2="389.5" y2="741" stroke="#000" stroke-width="1" shape-rendering="crispEdges"/>
<line x1="126" y1="546.5" x2="390" y2="546.5" stroke="#000" stroke-width="1" shape-rendering="crispEdges"/>
<line x1="126" y1="571.5" x2="390" y2="571.5" stroke="#000" stroke-width="1" shape-rendering="crispEdges"/>
<line x1="126" y1="596.5" x2="390" y2="596.5" stroke="#000" stroke-width="1" shape-rendering="crispEdges"/>
<line x1="126" y1="620.5" x2="390" y2="620.5" stroke="#000" stroke-width="1" shape-rendering="crispEdges"/>
<line x1="126" y1="643.5" x2="390" y2="643.5" stroke="#a0a0a0" stroke-width="1" shape-rendering="crispEdges"/>
<line x1="126" y1="668.5" x2="390" y2="668.5" stroke="#000" stroke-width="1" shape-rendering="crispEdges"/>
<line x1="126" y1="691.5" x2="390" y2="691.5" stroke="#a0a0a0" stroke-width="1" shape-rendering="crispEdges"/>
<line x1="126" y1="716.5" x2="390" y2="716.5" stroke="#000" stroke-width="1" shape-rendering="crispEdges"/>
<line x1="126" y1="740.5" x2="390" y2="740.5" stroke="#000" stroke-width="1" shape-rendering="crispEdges"/>
<path d="M178.2,740.3 L180.3,740.1 L182.4,739.7 L184.5,739.4 L186.6,739.0 L188.6,738.5 L190.6,738.0 L192.6,737.4 L194.5,736.8 L196.5,736.2 L198.4,735.5 L200.2,734.8 L202.1,734.0 L203.9,733.2 L205.7,732.4 L207.5,731.5 L209.3,730.6 L211.0,729.6 L212.8,728.6 L214.5,727.6 L216.2,726.6 L217.8,725.5 L219.5,724.4 L221.1,723.3 L222.8,722.1 L224.4,721.0 L226.0,719.7 L227.6,718.5 L229.1,717.3 L230.7,716.0 L232.2,714.7 L233.8,713.4 L235.3,712.1 L236.8,710.7 L238.3,709.4 L239.8,708.0 L241.3,706.6 L242.8,705.2 L244.2,703.8 L245.7,702.4 L247.2,701.0 L248.6,699.5 L250.1,698.1 L251.5,696.7 L253.0,695.2 L254.4,693.8 L255.9,692.3 L257.3,690.9 L258.7,689.4 L260.2,687.9 L261.6,686.5 L263.0,685.0 L264.5,683.6 L265.9,682.1 L267.3,680.7 L268.8,679.2 L270.2,677.8 L271.6,676.3 L273.1,674.9 L274.5,673.4 L275.9,672.0 L277.3,670.5 L278.8,669.1 L280.2,667.6 L281.6,666.2 L283.0,664.7 L284.5,663.3 L285.9,661.8 L287.3,660.4 L288.7,658.9 L290.2,657.5 L291.6,656.0 L293.0,654.6 L294.4,653.1 L295.8,651.7 L297.2,650.2 L298.7,648.8 L300.1,647.3 L301.5,645.9 L302.9,644.4 L304.3,643.0 L305.7,641.5 L307.1,640.1 L308.5,638.6 L309.9,637.2 L311.4,635.7 L312.8,634.2 L314.2,632.8 L315.6,631.3 L317.0,629.9 L318.4,628.4 L319.8,627.0 L321.2,625.5 L322.6,624.0 L324.0,622.6 L325.4,621.1 L326.8,619.6 L328.2,618.2 L329.5,616.7 L330.9,615.2 L332.3,613.8 L333.7,612.3 L335.1,610.8 L336.5,609.4 L337.9,607.9 L339.3,606.4 L340.7,604.9 L342.0,603.5 L343.4,602.0 L344.8,600.5 L346.2,599.0 L347.6,597.6 L348.9,596.1 L350.3,594.6 L351.7,593.1 L353.1,591.6 L354.4,590.1 L355.8,588.6 L357.2,587.1 L358.5,585.7 L359.9,584.2 L361.3,582.7 L362.6,581.2 L364.0,579.7 L365.4,578.2 L366.7,576.7 L368.1,575.2 L369.4,573.6 L370.8,572.1 L372.2,570.6 L373.5,569.1 L374.9,567.6 L376.2,566.1 L377.6,564.6 L378.9,563.0 L380.3,561.5 L381.6,560.0 L383.0,558.5 L384.3,556.9 L385.6,555.4 L387.0,553.9 L388.3,552.3 L389.7,550.8" fill="none" stroke="#000" stroke-width="1.9" stroke-linecap="butt" stroke-linejoin="round"/>
<text id="t50" transform="translate(117.8,550.9)" font-size="10.5" text-anchor="middle">4</text>
<text id="t51" transform="translate(117.8,597.2)" font-size="10.5" text-anchor="middle">3</text>
<text id="t52" transform="translate(117.8,645.3)" font-size="10.5" text-anchor="middle">2</text>
<text id="t53" transform="translate(117.8,693.2)" font-size="10.5" text-anchor="middle">1</text>
<text id="t54" transform="translate(117.8,743.8)" font-size="10.5" text-anchor="middle">0</text>
<text id="t55" transform="translate(131.2,760)" font-size="10.5" text-anchor="middle">0</text>
<text id="t56" transform="translate(152.6,760)" font-size="10.5" text-anchor="middle">1</text>
<text id="t57" transform="translate(176.5,760)" font-size="10.5" text-anchor="middle">2</text>
<text id="t58" transform="translate(203.3,760)" font-size="10.5" text-anchor="middle">3</text>
<text id="t59" transform="translate(230.6,760)" font-size="10.5" text-anchor="middle">4</text>
<text id="t60" transform="translate(257.5,760)" font-size="10.5" text-anchor="middle">5</text>
<text id="t61" transform="translate(283.5,760)" font-size="10.5" text-anchor="middle">6</text>
<text id="t62" transform="translate(310.5,760)" font-size="10.5" text-anchor="middle">7</text>
<text id="t63" transform="translate(335.8,760)" font-size="10.5" text-anchor="middle">8</text>
<text id="t64" transform="translate(362.4,760)" font-size="10.5" text-anchor="middle">9</text>
<text id="t65" transform="translate(391.3,760)" font-size="10.5" text-anchor="middle">10</text>
<text id="t66" transform="translate(395.4,554.1)" font-size="10.5">V<tspan font-size="7.5">DS=</tspan></text>
<text id="t67" transform="translate(395.4,568.9)" font-size="10.5">10V</text>
<text id="t68" transform="translate(172,792.3) scale(0.9439,1)" font-size="15">V<tspan font-size="9">GS-</tspan>Gate Source Voltage (Volts)</text>
<text id="t69" transform="translate(168.1,816.1) scale(1.0349,1)" font-size="15.8" font-weight="bold">Transfer Characteristics</text>
<text id="t70" transform="translate(93.1,769.4) rotate(-90.45) scale(1.0330,1)" font-size="13.2">I<tspan font-size="10.5" dy="0.8">D(On)</tspan><tspan dy="-0.8">-On-State Drain Current  (Amps)</tspan></text>
<line x1="505" y1="549.5" x2="772" y2="549.5" stroke="#a0a0a0" stroke-width="1" shape-rendering="crispEdges"/>
<line x1="505" y1="554.5" x2="772" y2="554.5" stroke="#a0a0a0" stroke-width="1" shape-rendering="crispEdges"/>
<line x1="505" y1="560" x2="772" y2="560" stroke="#c4c4c4" stroke-width="2" shape-rendering="crispEdges"/>
<line x1="505" y1="566.5" x2="772" y2="566.5" stroke="#a0a0a0" stroke-width="1" shape-rendering="crispEdges"/>
<line x1="505" y1="574" x2="772" y2="574" stroke="#c4c4c4" stroke-width="2" shape-rendering="crispEdges"/>
<line x1="505" y1="583.5" x2="772" y2="583.5" stroke="#a0a0a0" stroke-width="1" shape-rendering="crispEdges"/>
<line x1="505" y1="595.5" x2="772" y2="595.5" stroke="#a0a0a0" stroke-width="1" shape-rendering="crispEdges"/>
<line x1="505" y1="612.5" x2="772" y2="612.5" stroke="#a0a0a0" stroke-width="1" shape-rendering="crispEdges"/>
<line x1="505" y1="642.5" x2="772" y2="642.5" stroke="#707070" stroke-width="1" shape-rendering="crispEdges"/>
<line x1="505" y1="646.5" x2="772" y2="646.5" stroke="#a0a0a0" stroke-width="1" shape-rendering="crispEdges"/>
<line x1="505" y1="651" x2="772" y2="651" stroke="#c4c4c4" stroke-width="2" shape-rendering="crispEdges"/>
<line x1="505" y1="657.5" x2="772" y2="657.5" stroke="#a0a0a0" stroke-width="1" shape-rendering="crispEdges"/>
<line x1="505" y1="663.5" x2="772" y2="663.5" stroke="#a0a0a0" stroke-width="1" shape-rendering="crispEdges"/>
<line x1="505" y1="671.5" x2="772" y2="671.5" stroke="#a0a0a0" stroke-width="1" shape-rendering="crispEdges"/>
<line x1="505" y1="680.5" x2="772" y2="680.5" stroke="#a0a0a0" stroke-width="1" shape-rendering="crispEdges"/>
<line x1="505" y1="693.5" x2="772" y2="693.5" stroke="#a0a0a0" stroke-width="1" shape-rendering="crispEdges"/>
<line x1="505" y1="710.5" x2="772" y2="710.5" stroke="#a0a0a0" stroke-width="1" shape-rendering="crispEdges"/>
<line x1="505.5" y1="544" x2="505.5" y2="741" stroke="#000" stroke-width="1" shape-rendering="crispEdges"/>
<line x1="567.5" y1="544" x2="567.5" y2="741" stroke="#000" stroke-width="1" shape-rendering="crispEdges"/>
<line x1="602.5" y1="544" x2="602.5" y2="741" stroke="#000" stroke-width="1" shape-rendering="crispEdges"/>
<line x1="628.5" y1="544" x2="628.5" y2="741" stroke="#000" stroke-width="1" shape-rendering="crispEdges"/>
<line x1="648.5" y1="544" x2="648.5" y2="741" stroke="#000" stroke-width="1" shape-rendering="crispEdges"/>
<line x1="664.5" y1="544" x2="664.5" y2="741" stroke="#000" stroke-width="1" shape-rendering="crispEdges"/>
<line x1="678.5" y1="544" x2="678.5" y2="741" stroke="#000" stroke-width="1" shape-rendering="crispEdges"/>
<line x1="690.5" y1="544" x2="690.5" y2="741" stroke="#000" stroke-width="1" shape-rendering="crispEdges"/>
<line x1="700.5" y1="544" x2="700.5" y2="741" stroke="#000" stroke-width="1" shape-rendering="crispEdges"/>
<line x1="709.5" y1="544" x2="709.5" y2="741" stroke="#000" stroke-width="1" shape-rendering="crispEdges"/>
<line x1="771.5" y1="544" x2="771.5" y2="741" stroke="#000" stroke-width="1" shape-rendering="crispEdges"/>
<line x1="505" y1="544.5" x2="772" y2="544.5" stroke="#000" stroke-width="1" shape-rendering="crispEdges"/>
<line x1="505" y1="740.5" x2="772" y2="740.5" stroke="#000" stroke-width="1" shape-rendering="crispEdges"/>
<path d="M614.1,544.8 L614.1,546.7 L614.2,548.7 L614.2,550.6 L614.2,552.6 L614.2,554.6 L614.1,556.6 L614.1,558.6 L614.0,560.6 L614.0,562.7 L613.9,564.7 L613.9,566.7 L613.8,568.8 L613.8,570.8 L613.7,572.9 L613.7,574.9 L613.7,576.9 L613.7,579.0 L613.8,581.0 L613.9,583.1 L614.0,585.1 L614.1,587.1 L614.3,589.2 L614.5,591.2 L614.7,593.2 L615.0,595.2 L615.4,597.2 L615.8,599.2 L616.2,601.1 L616.7,603.1 L617.3,605.0 L617.9,607.0 L618.6,608.9 L619.3,610.7 L620.1,612.6 L621.0,614.4 L621.9,616.2 L622.9,618.0 L624.0,619.7 L625.1,621.4 L626.2,623.0 L627.4,624.6 L628.7,626.1 L630.0,627.6 L631.4,629.0 L632.9,630.4 L634.4,631.7 L635.9,632.9 L637.5,634.1 L639.2,635.2 L640.9,636.2 L642.6,637.2 L644.4,638.2 L646.2,639.1 L648.1,639.9 L649.9,640.7 L651.8,641.5 L653.7,642.2 L655.6,642.9 L657.6,643.5 L659.5,644.1 L661.5,644.7 L663.4,645.3 L665.4,645.8 L667.4,646.4 L669.3,646.9 L671.3,647.3 L673.3,647.8 L675.2,648.2 L677.2,648.6 L679.2,649.0 L681.2,649.4 L683.2,649.8 L685.2,650.1 L687.2,650.4 L689.2,650.7 L691.2,651.0 L693.2,651.3 L695.2,651.6 L697.2,651.8 L699.2,652.1 L701.2,652.3 L703.2,652.5 L705.2,652.7 L707.2,652.9 L709.3,653.1 L711.3,653.3 L713.3,653.5 L715.3,653.7 L717.3,653.9 L719.3,654.1 L721.4,654.2 L723.4,654.4 L725.4,654.6 L727.4,654.8 L729.4,654.9 L731.4,655.1 L733.5,655.3 L735.5,655.5 L737.5,655.6 L739.5,655.8 L741.5,656.0 L743.5,656.2 L745.5,656.4 L747.6,656.7 L749.6,656.9 L751.6,657.1 L753.6,657.4 L755.6,657.6 L757.6,657.9 L759.6,658.2 L761.6,658.5 L763.5,658.8 L765.5,659.1 L767.5,659.5 L769.5,659.8 L771.5,660.2" fill="none" stroke="#000" stroke-width="1.9" stroke-linecap="butt" stroke-linejoin="round"/>
<path d="M624.4,544.8 L624.5,546.7 L624.6,548.7 L624.7,550.6 L624.7,552.6 L624.8,554.6 L624.8,556.6 L624.8,558.6 L624.7,560.7 L624.7,562.7 L624.7,564.8 L624.6,566.8 L624.6,568.9 L624.6,570.9 L624.6,573.0 L624.6,575.1 L624.7,577.1 L624.7,579.2 L624.8,581.3 L625.0,583.3 L625.2,585.3 L625.4,587.4 L625.6,589.4 L626.0,591.4 L626.3,593.4 L626.8,595.3 L627.3,597.3 L627.9,599.2 L628.5,601.1 L629.2,603.0 L629.9,604.8 L630.7,606.7 L631.6,608.5 L632.5,610.2 L633.5,612.0 L634.5,613.7 L635.6,615.4 L636.7,617.1 L637.9,618.7 L639.1,620.3 L640.4,621.8 L641.7,623.3 L643.1,624.8 L644.5,626.3 L645.9,627.7 L647.4,629.0 L648.9,630.4 L650.5,631.7 L652.1,632.9 L653.7,634.1 L655.4,635.2 L657.1,636.3 L658.8,637.4 L660.6,638.4 L662.4,639.3 L664.2,640.2 L666.0,641.1 L667.9,641.9 L669.8,642.6 L671.7,643.3 L673.6,644.0 L675.6,644.6 L677.5,645.2 L679.5,645.8 L681.5,646.3 L683.4,646.8 L685.4,647.2 L687.4,647.7 L689.4,648.1 L691.5,648.5 L693.5,648.9 L695.5,649.3 L697.5,649.6 L699.5,650.0 L701.5,650.3 L703.5,650.7 L705.5,651.0 L707.5,651.3 L709.5,651.6 L711.5,651.9 L713.5,652.1 L715.5,652.4 L717.5,652.7 L719.5,652.9 L721.5,653.2 L723.5,653.5 L725.5,653.7 L727.5,654.0 L729.6,654.2 L731.6,654.5 L733.6,654.8 L735.6,655.0 L737.6,655.3 L739.6,655.6 L741.6,655.9 L743.6,656.2 L745.6,656.4 L747.6,656.8 L749.6,657.1 L751.6,657.4 L753.6,657.7 L755.5,658.1 L757.5,658.4 L759.5,658.8 L761.5,659.2 L763.5,659.6 L765.5,660.1 L767.5,660.5 L769.5,661.0 L771.5,661.5" fill="none" stroke="#000" stroke-width="1.9" stroke-linecap="butt" stroke-linejoin="round"/>
<path d="M642.8,544.5 L642.8,546.6 L642.8,548.6 L642.7,550.7 L642.7,552.7 L642.7,554.7 L642.7,556.8 L642.6,558.8 L642.6,560.8 L642.6,562.8 L642.6,564.8 L642.6,566.8 L642.6,568.8 L642.6,570.8 L642.5,572.8 L642.5,574.8 L642.5,576.9 L642.5,578.9 L642.5,580.9 L642.5,582.9 L642.5,585.0 L642.5,587.0 L642.5,589.0 L642.5,591.1 L642.5,593.2 L642.5,595.2 L642.6,597.3 L642.7,599.3 L642.8,601.3 L643.1,603.3 L643.4,605.3 L643.8,607.2 L644.3,609.1 L645.0,611.0 L645.7,612.8 L646.6,614.6 L647.6,616.3 L648.8,617.9 L650.0,619.5 L651.4,621.0 L652.8,622.5 L654.2,623.9 L655.7,625.3 L657.3,626.7 L658.8,628.1 L660.3,629.4 L661.9,630.7 L663.5,631.9 L665.1,633.1 L666.8,634.2 L668.5,635.2 L670.2,636.2 L672.0,637.2 L673.8,638.1 L675.6,638.9 L677.4,639.7 L679.3,640.5 L681.1,641.2 L683.0,641.9 L684.9,642.6 L686.9,643.2 L688.8,643.8 L690.7,644.4 L692.7,644.9 L694.7,645.5 L696.6,646.0 L698.6,646.5 L700.6,647.0 L702.5,647.5 L704.5,648.0 L706.4,648.5 L708.4,649.0 L710.4,649.5 L712.3,650.0 L714.3,650.5 L716.2,651.0 L718.2,651.4 L720.2,651.9 L722.1,652.4 L724.1,652.8 L726.0,653.3 L728.0,653.7 L730.0,654.2 L731.9,654.6 L733.9,655.1 L735.8,655.5 L737.8,655.9 L739.8,656.4 L741.7,656.8 L743.7,657.2 L745.7,657.6 L747.6,658.0 L749.6,658.5 L751.6,658.9 L753.6,659.3 L755.5,659.7 L757.5,660.1 L759.5,660.5 L761.5,660.9 L763.5,661.3 L765.5,661.6 L767.5,662.0 L769.5,662.4 L771.5,662.8" fill="none" stroke="#000" stroke-width="1.9" stroke-linecap="butt" stroke-linejoin="round"/>
<text id="t71" transform="translate(488.7,546.9)" font-size="10.5">10</text>
<text id="t72" transform="translate(495.4,646.9)" font-size="10.5" text-anchor="middle">1</text>
<text id="t73" transform="translate(487.3,739.8)" font-size="10.5">0.1</text>
<text id="t74" transform="translate(510,758.7)" font-size="10.5" text-anchor="middle">1</text>
<text id="t75" transform="translate(568.5,758.7)" font-size="10.5" text-anchor="middle">2</text>
<text id="t76" transform="translate(599.2,758.7)" font-size="10.5" text-anchor="middle">3</text>
<text id="t77" transform="translate(625.9,758.7)" font-size="10.5" text-anchor="middle">4</text>
<text id="t78" transform="translate(644.2,758.7)" font-size="10.5" text-anchor="middle">5</text>
<text id="t79" transform="translate(659.9,758.7)" font-size="10.5" text-anchor="middle">6</text>
<text id="t80" transform="translate(676,758.7)" font-size="10.5" text-anchor="middle">7</text>
<text id="t81" transform="translate(687.8,758.7)" font-size="10.5" text-anchor="middle">8</text>
<text id="t82" transform="translate(699.2,758.7)" font-size="10.5" text-anchor="middle">9</text>
<text id="t83" transform="translate(712.8,758.7)" font-size="10.5" text-anchor="middle">10</text>
<text id="t84" transform="translate(773.9,758.7)" font-size="10.5" text-anchor="middle">20</text>
<text id="t85" transform="translate(780.9,644.7)" font-size="10.5">I<tspan font-size="7.5">D=</tspan></text>
<text id="t86" transform="translate(781,658.1)" font-size="10.5">1A</text>
<text id="t87" transform="translate(779.7,667.9)" font-size="10.5">0.5A</text>
<text id="t88" transform="translate(779.7,681.1)" font-size="10.5">0.25A</text>
<text id="t89" transform="translate(533.8,792.3) scale(0.9316,1)" font-size="15">V<tspan font-size="9">GS-</tspan>Gate Source Voltage (Volts)</text>
<text id="t90" transform="translate(501.8,823) scale(1.0277,1)" font-size="15.8" font-weight="bold">On-resistance v gate-source voltage</text>
<text id="t91" transform="translate(461.2,781.9) rotate(-90) scale(0.9356,1)" font-size="15.2">R<tspan font-size="10.8">DS(ON)</tspan> -Drain Source  On-Resistance (Ω)</text>
<line x1="136.5" y1="882" x2="136.5" y2="1076" stroke="#000" stroke-width="1" shape-rendering="crispEdges"/>
<line x1="158.5" y1="882" x2="158.5" y2="1076" stroke="#a0a0a0" stroke-width="1" shape-rendering="crispEdges"/>
<line x1="180.5" y1="882" x2="180.5" y2="1076" stroke="#a0a0a0" stroke-width="1" shape-rendering="crispEdges"/>
<line x1="202.5" y1="882" x2="202.5" y2="1076" stroke="#a0a0a0" stroke-width="1" shape-rendering="crispEdges"/>
<line x1="224.5" y1="882" x2="224.5" y2="1076" stroke="#a0a0a0" stroke-width="1" shape-rendering="crispEdges"/>
<line x1="246.5" y1="882" x2="246.5" y2="1076" stroke="#a0a0a0" stroke-width="1" shape-rendering="crispEdges"/>
<line x1="268.5" y1="882" x2="268.5" y2="1076" stroke="#a0a0a0" stroke-width="1" shape-rendering="crispEdges"/>
<line x1="290.5" y1="882" x2="290.5" y2="1076" stroke="#a0a0a0" stroke-width="1" shape-rendering="crispEdges"/>
<line x1="312.5" y1="882" x2="312.5" y2="1076" stroke="#a0a0a0" stroke-width="1" shape-rendering="crispEdges"/>
<line x1="334.5" y1="882" x2="334.5" y2="1076" stroke="#a0a0a0" stroke-width="1" shape-rendering="crispEdges"/>
<line x1="356.5" y1="882" x2="356.5" y2="1076" stroke="#000" stroke-width="1" shape-rendering="crispEdges"/>
<line x1="378.5" y1="882" x2="378.5" y2="1076" stroke="#000" stroke-width="1" shape-rendering="crispEdges"/>
<line x1="400.5" y1="882" x2="400.5" y2="1076" stroke="#000" stroke-width="1" shape-rendering="crispEdges"/>
<line x1="136" y1="882" x2="357" y2="882" stroke="#000" stroke-width="2" shape-rendering="crispEdges"/>
<line x1="356" y1="882.5" x2="401" y2="882.5" stroke="#000" stroke-width="1" shape-rendering="crispEdges"/>
<line x1="136" y1="901.5" x2="401" y2="901.5" stroke="#000" stroke-width="1" shape-rendering="crispEdges"/>
<line x1="136" y1="921.5" x2="401" y2="921.5" stroke="#000" stroke-width="1" shape-rendering="crispEdges"/>
<line x1="136" y1="940.5" x2="401" y2="940.5" stroke="#000" stroke-width="1" shape-rendering="crispEdges"/>
<line x1="136" y1="959.5" x2="401" y2="959.5" stroke="#000" stroke-width="1" shape-rendering="crispEdges"/>
<line x1="136" y1="979.5" x2="401" y2="979.5" stroke="#000" stroke-width="1" shape-rendering="crispEdges"/>
<line x1="136" y1="998.5" x2="178" y2="998.5" stroke="#c4c4c4" stroke-width="1" shape-rendering="crispEdges"/>
<line x1="178" y1="998.5" x2="401" y2="998.5" stroke="#000" stroke-width="1" shape-rendering="crispEdges"/>
<line x1="136" y1="1017.5" x2="401" y2="1017.5" stroke="#000" stroke-width="1" shape-rendering="crispEdges"/>
<line x1="136" y1="1036.5" x2="180" y2="1036.5" stroke="#c4c4c4" stroke-width="1" shape-rendering="crispEdges"/>
<line x1="180" y1="1037.5" x2="401" y2="1037.5" stroke="#000" stroke-width="1" shape-rendering="crispEdges"/>
<line x1="136" y1="1056.5" x2="401" y2="1056.5" stroke="#000" stroke-width="1" shape-rendering="crispEdges"/>
<line x1="136" y1="1075.5" x2="401" y2="1075.5" stroke="#000" stroke-width="1" shape-rendering="crispEdges"/>
<rect transform="translate(253.3,1008.2) rotate(-35.5)" x="-2" y="-10" width="164.5" height="13" fill="#fff"/>
<rect transform="translate(235,1048.6) rotate(5.8)" x="-1.5" y="-9.5" width="161.3" height="13" fill="#fff"/>
<rect x="346" y="958.7" width="44.5" height="11" fill="#fff"/>
<rect x="346.5" y="973.2" width="28.5" height="10.3" fill="#fff"/>
<rect x="349.5" y="1007.3" width="44" height="27.3" fill="#fff"/>
<path d="M150.2,994.8 L387.4,1044.9" fill="none" stroke="#000" stroke-width="1.9" stroke-linecap="butt" stroke-linejoin="round"/>
<path d="M148.1,1059.8 L150.1,1059.4 L152.1,1059.0 L154.1,1058.6 L156.1,1058.1 L158.0,1057.7 L160.0,1057.2 L162.0,1056.7 L163.9,1056.2 L165.9,1055.7 L167.9,1055.1 L169.8,1054.6 L171.8,1054.0 L173.7,1053.4 L175.6,1052.8 L177.6,1052.2 L179.5,1051.6 L181.4,1051.0 L183.3,1050.3 L185.2,1049.6 L187.1,1049.0 L189.0,1048.3 L190.9,1047.6 L192.8,1046.8 L194.7,1046.1 L196.5,1045.4 L198.4,1044.6 L200.3,1043.9 L202.1,1043.1 L204.0,1042.3 L205.8,1041.5 L207.7,1040.7 L209.5,1039.8 L211.3,1039.0 L213.1,1038.1 L215.0,1037.3 L216.8,1036.4 L218.6,1035.5 L220.4,1034.6 L222.2,1033.7 L224.0,1032.8 L225.8,1031.9 L227.6,1030.9 L229.4,1030.0 L231.1,1029.0 L232.9,1028.1 L234.7,1027.1 L236.4,1026.1 L238.2,1025.1 L240.0,1024.1 L241.7,1023.1 L243.5,1022.1 L245.2,1021.1 L247.0,1020.1 L248.7,1019.1 L250.4,1018.1 L252.2,1017.0 L253.9,1016.0 L255.6,1015.0 L257.4,1013.9 L259.1,1012.9 L260.8,1011.8 L262.6,1010.8 L264.3,1009.7 L266.0,1008.6 L267.7,1007.6 L269.4,1006.5 L271.1,1005.4 L272.9,1004.4 L274.6,1003.3 L276.3,1002.2 L278.0,1001.1 L279.7,1000.0 L281.4,998.9 L283.1,997.8 L284.8,996.7 L286.5,995.6 L288.2,994.5 L289.8,993.4 L291.5,992.3 L293.2,991.2 L294.9,990.1 L296.6,989.0 L298.3,987.8 L300.0,986.7 L301.6,985.6 L303.3,984.5 L305.0,983.3 L306.7,982.2 L308.3,981.1 L310.0,979.9 L311.7,978.8 L313.3,977.6 L315.0,976.5 L316.7,975.3 L318.3,974.2 L320.0,973.0 L321.6,971.9 L323.3,970.7 L325.0,969.6 L326.6,968.4 L328.3,967.3 L329.9,966.1 L331.6,964.9 L333.2,963.8 L334.9,962.6 L336.5,961.5 L338.2,960.3 L339.8,959.1 L341.5,957.9 L343.1,956.8 L344.7,955.6 L346.4,954.4 L348.0,953.2 L349.6,952.0 L351.3,950.9 L352.9,949.7 L354.5,948.5 L356.1,947.3 L357.7,946.0 L359.4,944.8 L361.0,943.6 L362.6,942.4 L364.2,941.2 L365.7,939.9 L367.3,938.7 L368.9,937.4 L370.5,936.2 L372.1,934.9 L373.6,933.6 L375.2,932.3 L376.7,931.0 L378.3,929.7 L379.8,928.4 L381.4,927.1 L382.9,925.8 L384.4,924.5 L385.9,923.1 L387.4,921.8 L388.9,920.4" fill="none" stroke="#000" stroke-width="1.9" stroke-linecap="butt" stroke-linejoin="round"/>
<text id="t92" transform="translate(117.6,886.9) scale(1.0264,1)" font-size="11">2.4</text>
<text id="t93" transform="translate(117.6,906.1) scale(1.0264,1)" font-size="11">2.2</text>
<text id="t94" transform="translate(117.6,925.4) scale(1.0264,1)" font-size="11">2.0</text>
<text id="t95" transform="translate(117.6,944.2) scale(1.0264,1)" font-size="11">1.8</text>
<text id="t96" transform="translate(117.6,963.2) scale(1.0264,1)" font-size="11">1.6</text>
<text id="t97" transform="translate(117.6,983.1) scale(1.0264,1)" font-size="11">1.4</text>
<text id="t98" transform="translate(117.6,1002.1) scale(1.0264,1)" font-size="11">1.2</text>
<text id="t99" transform="translate(117.6,1021) scale(1.0264,1)" font-size="11">1.0</text>
<text id="t100" transform="translate(117.6,1040) scale(1.0264,1)" font-size="11">0.8</text>
<text id="t101" transform="translate(117.6,1058) scale(1.0264,1)" font-size="11">0.6</text>
<text id="t102" transform="translate(117.6,1078.9) scale(1.0264,1)" font-size="11">0.4</text>
<text id="t103" transform="translate(140.4,1087.3)" font-size="10.8" text-anchor="middle">-80</text>
<text id="t104" transform="translate(160.3,1087.3)" font-size="10.8" text-anchor="middle">-60</text>
<text id="t105" transform="translate(178.9,1087.3)" font-size="10.8" text-anchor="middle">-40</text>
<text id="t106" transform="translate(200.5,1087.3)" font-size="10.8" text-anchor="middle">-20</text>
<text id="t107" transform="translate(224.8,1087.3)" font-size="10.8" text-anchor="middle">0</text>
<text id="t108" transform="translate(243.3,1087.3)" font-size="10.8" text-anchor="middle">20</text>
<text id="t109" transform="translate(264.5,1087.3)" font-size="10.8" text-anchor="middle">40</text>
<text id="t110" transform="translate(284.8,1087.3)" font-size="10.8" text-anchor="middle">60</text>
<text id="t111" transform="translate(305.2,1087.3)" font-size="10.8" text-anchor="middle">80</text>
<text id="t112" transform="translate(328.6,1087.3)" font-size="10.8" text-anchor="middle">100</text>
<text id="t113" transform="translate(352.9,1088.5)" font-size="10.8" text-anchor="middle">120</text>
<text id="t114" transform="translate(374.8,1087.3)" font-size="10.8" text-anchor="middle">140</text>
<text id="t115" transform="translate(399.2,1087.3)" font-size="10.8" text-anchor="middle">160</text>
<text id="t116" transform="translate(346.7,967.7) scale(0.9422,1)" font-size="11.8">V<tspan font-size="8">GS=</tspan>10V</text>
<text id="t117" transform="translate(347.3,981.9) scale(0.9336,1)" font-size="11.8">I<tspan font-size="8">D=</tspan>1A</text>
<text id="t118" transform="translate(350.8,1017.6) scale(0.9742,1)" font-size="11.5">V<tspan font-size="8">GS=</tspan>V<tspan font-size="8">DS</tspan></text>
<text id="t119" transform="translate(352.6,1031.9) scale(0.9755,1)" font-size="11.5">I<tspan font-size="8">D=</tspan>1mA</text>
<text id="t120" transform="translate(253.3,1008.2) rotate(-35.5) scale(0.9145,1)" font-size="11.5" font-weight="bold" style="stroke-width:0.55px">Drain-Source Resistance R<tspan font-size="8.5">DS(on)</tspan></text>
<text id="t121" transform="translate(235,1048.6) rotate(5.8) scale(0.9590,1)" font-size="11.5" font-weight="bold" style="stroke-width:0.55px">Gate Threshold Voltage V<tspan font-size="8.5">GS(th)</tspan></text>
<text id="t122" transform="translate(189.7,1125.7) scale(0.9265,1)" font-size="15">T<tspan font-size="10">j</tspan>-Junction Temperature (C<tspan font-size="9" dy="-4.5">o</tspan><tspan dy="4.5">)</tspan></text>
<text id="t123" transform="translate(82.5,1155.1) scale(1.0242,1)" font-size="15.8" font-weight="bold">Normalised R<tspan font-size="12">DS(on)</tspan> and V<tspan font-size="12">GS(th)</tspan> vs Temperature</text>
<text id="t124" transform="translate(81,1084) rotate(-91) scale(0.9339,1)" font-size="14.4">Normalised R<tspan font-size="10.8">DS(on)</tspan> and V<tspan font-size="10.8">GS(th)</tspan></text>
<line x1="499.5" y1="884" x2="499.5" y2="1076" stroke="#000" stroke-width="1" shape-rendering="crispEdges"/>
<line x1="525.5" y1="884" x2="525.5" y2="1076" stroke="#000" stroke-width="1" shape-rendering="crispEdges"/>
<line x1="552.5" y1="884" x2="552.5" y2="1076" stroke="#000" stroke-width="1" shape-rendering="crispEdges"/>
<line x1="578.5" y1="884" x2="578.5" y2="1076" stroke="#000" stroke-width="1" shape-rendering="crispEdges"/>
<line x1="604.5" y1="884" x2="604.5" y2="1076" stroke="#000" stroke-width="1" shape-rendering="crispEdges"/>
<line x1="631.5" y1="884" x2="631.5" y2="1076" stroke="#000" stroke-width="1" shape-rendering="crispEdges"/>
<line x1="657.5" y1="884" x2="657.5" y2="1076" stroke="#000" stroke-width="1" shape-rendering="crispEdges"/>
<line x1="684.5" y1="884" x2="684.5" y2="1076" stroke="#000" stroke-width="1" shape-rendering="crispEdges"/>
<line x1="710.5" y1="884" x2="710.5" y2="1076" stroke="#000" stroke-width="1" shape-rendering="crispEdges"/>
<line x1="736.5" y1="884" x2="736.5" y2="1076" stroke="#000" stroke-width="1" shape-rendering="crispEdges"/>
<line x1="762.5" y1="884" x2="762.5" y2="1076" stroke="#000" stroke-width="1" shape-rendering="crispEdges"/>
<line x1="499" y1="884.5" x2="763" y2="884.5" stroke="#000" stroke-width="1" shape-rendering="crispEdges"/>
<line x1="499" y1="910.5" x2="763" y2="910.5" stroke="#000" stroke-width="1" shape-rendering="crispEdges"/>
<line x1="499" y1="937.5" x2="763" y2="937.5" stroke="#000" stroke-width="1" shape-rendering="crispEdges"/>
<line x1="499" y1="965.5" x2="763" y2="965.5" stroke="#a0a0a0" stroke-width="1" shape-rendering="crispEdges"/>
<line x1="499" y1="992.5" x2="763" y2="992.5" stroke="#000" stroke-width="1" shape-rendering="crispEdges"/>
<line x1="499" y1="1020.5" x2="763" y2="1020.5" stroke="#000" stroke-width="1" shape-rendering="crispEdges"/>
<line x1="499" y1="1048.5" x2="763" y2="1048.5" stroke="#000" stroke-width="1" shape-rendering="crispEdges"/>
<line x1="499" y1="1075.5" x2="763" y2="1075.5" stroke="#000" stroke-width="1" shape-rendering="crispEdges"/>
<rect x="623" y="959.5" width="45" height="11" fill="#fff"/>
<path d="M499.3,1075.4 L499.2,1073.3 L499.1,1071.3 L499.1,1069.2 L499.1,1067.2 L499.1,1065.1 L499.1,1063.1 L499.2,1061.1 L499.3,1059.1 L499.4,1057.1 L499.5,1055.1 L499.7,1053.1 L499.9,1051.1 L500.1,1049.1 L500.3,1047.1 L500.6,1045.1 L500.8,1043.2 L501.1,1041.2 L501.4,1039.2 L501.7,1037.3 L502.0,1035.3 L502.4,1033.3 L502.7,1031.4 L503.1,1029.4 L503.4,1027.4 L503.8,1025.5 L504.2,1023.5 L504.6,1021.6 L504.9,1019.6 L505.3,1017.6 L505.7,1015.6 L506.1,1013.7 L506.5,1011.7 L506.9,1009.7 L507.3,1007.7 L507.6,1005.7 L508.0,1003.7 L508.4,1001.7 L508.8,999.7 L509.2,997.7 L509.5,995.7 L509.9,993.7 L510.3,991.7 L510.8,989.7 L511.2,987.7 L511.6,985.7 L512.1,983.7 L512.6,981.7 L513.1,979.8 L513.6,977.8 L514.2,975.9 L514.8,974.0 L515.4,972.0 L516.1,970.2 L516.8,968.3 L517.5,966.4 L518.3,964.6 L519.1,962.8 L519.9,961.0 L520.9,959.3 L521.8,957.5 L522.8,955.8 L523.9,954.2 L525.0,952.5 L526.2,950.9 L527.4,949.3 L528.7,947.8 L530.0,946.3 L531.4,944.8 L532.8,943.4 L534.3,942.0 L535.9,940.7 L537.4,939.4 L539.0,938.2 L540.7,937.1 L542.4,936.0 L544.1,934.9 L545.9,933.9 L547.6,932.9 L549.4,932.0 L551.3,931.1 L553.1,930.3 L554.9,929.5 L556.8,928.7 L558.7,928.0 L560.6,927.3 L562.5,926.6 L564.4,926.0 L566.3,925.4 L568.3,924.9 L570.2,924.3 L572.2,923.8 L574.1,923.4 L576.1,923.0 L578.1,922.6 L580.1,922.2 L582.0,921.9 L584.0,921.5 L586.0,921.3 L588.0,921.0 L590.0,920.8 L592.0,920.6 L594.0,920.4 L596.0,920.2 L598.0,920.1 L600.0,920.0 L602.1,919.9 L604.1,919.8 L606.1,919.8 L608.1,919.7 L610.1,919.7 L612.1,919.7 L614.1,919.7 L616.1,919.7 L618.1,919.7 L620.1,919.8 L622.2,919.8 L624.2,919.8 L626.2,919.9 L628.2,919.9 L630.2,920.0 L632.2,920.1 L634.2,920.1 L636.2,920.2 L638.3,920.2 L640.3,920.3 L642.3,920.3 L644.3,920.4 L646.3,920.4 L648.3,920.5 L650.3,920.5 L652.4,920.5 L654.4,920.6 L656.4,920.6 L658.4,920.6 L660.4,920.6 L662.4,920.6 L664.4,920.6 L666.4,920.6 L668.5,920.6 L670.5,920.6 L672.5,920.6 L674.5,920.6 L676.5,920.5 L678.5,920.5 L680.5,920.5 L682.5,920.4 L684.6,920.4 L686.6,920.4 L688.6,920.3 L690.6,920.3 L692.6,920.2 L694.6,920.1 L696.6,920.1 L698.6,920.0 L700.7,919.9 L702.7,919.8 L704.7,919.8 L706.7,919.7 L708.7,919.6" fill="none" stroke="#000" stroke-width="1.9" stroke-linecap="butt" stroke-linejoin="round"/>
<text id="t125" transform="translate(475.6,883) scale(0.9857,1)" font-size="10.5">0.7</text>
<text id="t126" transform="translate(475.6,913) scale(0.9857,1)" font-size="10.5">0.6</text>
<text id="t127" transform="translate(475.6,938.2) scale(0.9857,1)" font-size="10.5">0.5</text>
<text id="t128" transform="translate(475.6,967.1) scale(0.9857,1)" font-size="10.5">0.4</text>
<text id="t129" transform="translate(475.6,994.7) scale(0.9857,1)" font-size="10.5">0.3</text>
<text id="t130" transform="translate(475.6,1020.1) scale(0.9857,1)" font-size="10.5">0.2</text>
<text id="t131" transform="translate(475.6,1046.6) scale(0.9857,1)" font-size="10.5">0.1</text>
<text id="t132" transform="translate(487.1,1071.8)" font-size="10.5" text-anchor="middle">0</text>
<text id="t133" transform="translate(503.5,1095)" font-size="10.5" text-anchor="middle">0</text>
<text id="t134" transform="translate(548.6,1095)" font-size="10.5" text-anchor="middle">1</text>
<text id="t135" transform="translate(602.1,1095)" font-size="10.5" text-anchor="middle">2</text>
<text id="t136" transform="translate(655.3,1095)" font-size="10.5" text-anchor="middle">3</text>
<text id="t137" transform="translate(707.6,1095)" font-size="10.5" text-anchor="middle">4</text>
<text id="t138" transform="translate(762.1,1095)" font-size="10.5" text-anchor="middle">5</text>
<text id="t139" transform="translate(624.6,968.1) scale(0.9559,1)" font-size="11.5">V<tspan font-size="8">DS=</tspan>10V</text>
<text id="t140" transform="translate(573.2,1126.7) scale(0.9196,1)" font-size="15">I<tspan font-size="10">D</tspan>- Drain Current (Amps)</text>
<text id="t141" transform="translate(515.2,1154.4) scale(1.0327,1)" font-size="15.8" font-weight="bold">Transconductance v drain current</text>
<text id="t142" transform="translate(458.7,1067) rotate(-90) scale(1.0142,1)" font-size="13.7">g<tspan font-size="9.5">fs-</tspan>Transconductance (S)</text>
</svg>
</body>
</html>
